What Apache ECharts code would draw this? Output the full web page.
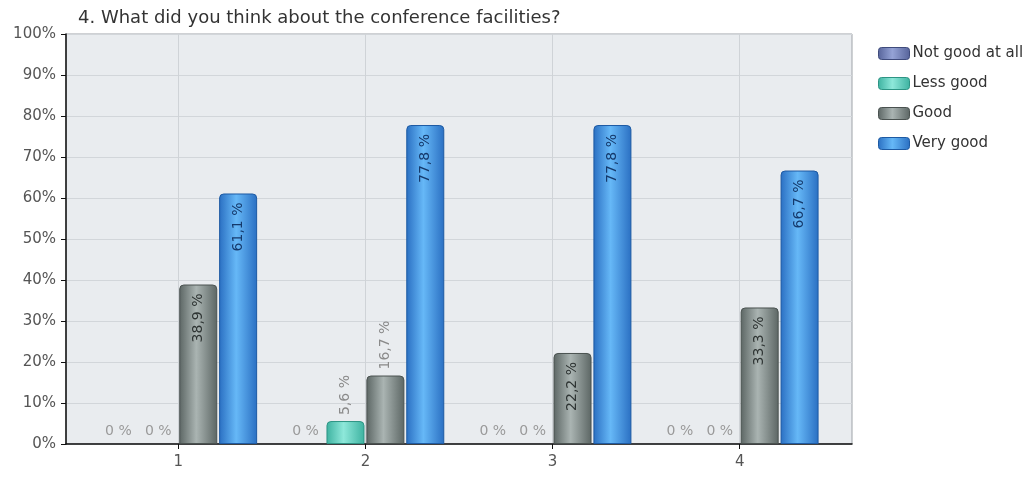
<!DOCTYPE html>
<html>
<head>
<meta charset="utf-8">
<script src="https://cdn.jsdelivr.net/npm/echarts@6/dist/echarts.min.js"></script>
<style>html,body{margin:0;padding:0;background:#fff;}#c{width:1033px;height:479px;}</style>
</head>
<body>
<div id="c"></div>
<script>
const titleText = '4. What did you think about the conference facilities?';
const categories = [1, 2, 3, 4];
const seriesNames = ['Not good at all', 'Less good', 'Good', 'Very good'];
const notGoodAtAll = [0, 0, 0, 0];
const lessGood = [0, 5.6, 0, 0];
const good = [38.9, 16.7, 22.2, 33.3];
const veryGood = [61.1, 77.8, 77.8, 66.7];
const yTicks = [0, 10, 20, 30, 40, 50, 60, 70, 80, 90, 100];

const FONT = 'DejaVu Sans, Verdana, sans-serif';

const palette = [
  {edge: '#56639a', mid: '#95a3d6', border: '#3f4b7c', text: '#2a3260'},
  {edge: '#3db2a0', mid: '#8ee8da', border: '#2d9484', text: '#1f5f55'},
  {edge: '#5c6664', mid: '#aab4b2', border: '#4a5250', text: '#2e3433'},
  {edge: '#2a6fc2', mid: '#66b8f7', border: '#1d5aa3', text: '#15396b'}
];

function grad(p) {
  return new echarts.graphic.LinearGradient(0, 0, 1, 0, [
    {offset: 0, color: p.edge},
    {offset: 0.45, color: p.mid},
    {offset: 1, color: p.edge}
  ]);
}

function fmt(v) { return v === 0 ? '0 %' : String(v.toFixed(1)).replace('.', ',') + ' %'; }

function makeData(values, p) {
  return values.map((v, i) => {
    let label;
    if (v === 0) {
      label = {show: true, position: 'top', rotate: 0, distance: 6, color: '#9a9a9a',
               align: 'center', verticalAlign: 'bottom'};
    } else if (v >= 20) {
      label = {show: true, position: 'insideTop', rotate: 90, distance: 9, color: p.text,
               align: 'right', verticalAlign: 'middle'};
    } else {
      label = {show: true, position: 'top', rotate: 90, distance: 6, color: '#8a8a8a',
               align: 'left', verticalAlign: 'middle'};
    }
    const item = {value: [categories[i], v], label: label};
    if (v === 0) item.itemStyle = {borderWidth: 0};
    return item;
  });
}

const allValues = [notGoodAtAll, lessGood, good, veryGood];

const series = seriesNames.map((name, k) => ({
  name: name,
  type: 'bar',
  barWidth: 38,
  barGap: '5%',
  data: makeData(allValues[k], palette[k]),
  itemStyle: {color: grad(palette[k]), borderColor: palette[k].border, borderWidth: 1, borderRadius: [4, 4, 0, 0]},
  label: {fontSize: 14, fontFamily: FONT,
          formatter: (prm) => fmt(prm.value[1])},
  emphasis: {disabled: true}
}));

const chart = echarts.init(document.getElementById('c'), null, {renderer: 'canvas'});
chart.setOption({
  animation: false,
  backgroundColor: '#ffffff',
  textStyle: {fontFamily: FONT},
  title: {
    text: titleText, left: 73, top: 4,
    textStyle: {fontSize: 18, fontWeight: 'normal', color: '#333', fontFamily: FONT}
  },
  legend: {
    orient: 'vertical', left: 873, top: 41,
    itemWidth: 31, itemHeight: 12, itemGap: 15, itemStyle: {borderWidth: 1},
    icon: 'roundRect',
    textStyle: {fontSize: 15, color: '#333', fontFamily: FONT, padding: [0, 0, 0, -2]},
    data: seriesNames
  },
  grid: {
    left: 66, right: 181, top: 34, bottom: 35,
    show: true, backgroundColor: '#e9ecef', borderColor: '#9ea3a8', borderWidth: 1
  },
  xAxis: {
    type: 'value', min: 0.4, max: 4.6,
    axisLine: {show: true, lineStyle: {color: '#111', width: 1.5}},
    axisTick: {show: true, customValues: categories, length: 5, lineStyle: {color: '#111'}},
    axisLabel: {customValues: categories, color: '#555', fontSize: 15, margin: 11, fontFamily: FONT},
    splitLine: {show: true, lineStyle: {color: '#cfd3d7'}}
  },
  yAxis: {
    type: 'value', min: 0, max: 100, interval: 10,
    axisLine: {show: true, lineStyle: {color: '#111', width: 1.5}},
    axisTick: {show: true, length: 5, lineStyle: {color: '#111'}},
    axisLabel: {color: '#555', fontSize: 15, margin: 10, fontFamily: FONT, formatter: (v) => v + '%'},
    splitLine: {show: true, lineStyle: {color: '#d2d6da'}}
  },
  series: series
});
</script>
</body>
</html>
